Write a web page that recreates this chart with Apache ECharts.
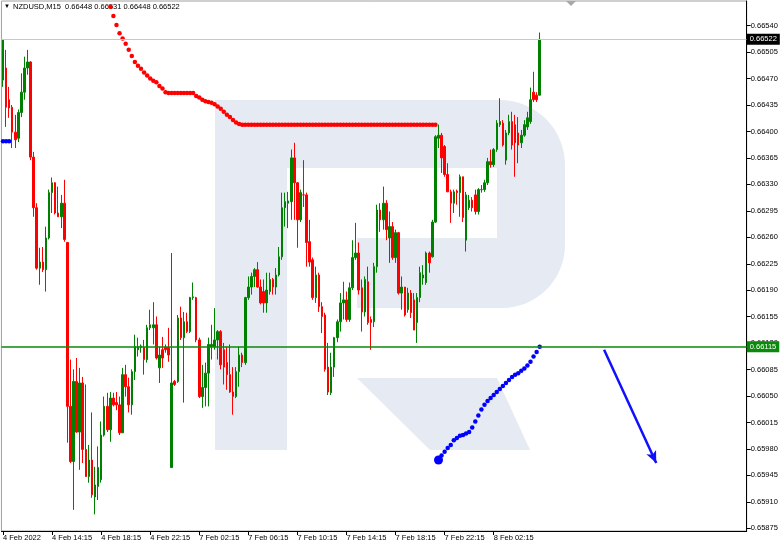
<!DOCTYPE html>
<html><head><meta charset="utf-8">
<script src="https://cdn.jsdelivr.net/npm/echarts@6/dist/echarts.min.js"></script>
<style>html,body{margin:0;padding:0;background:#fff}#c{width:782px;height:547px}</style>
</head><body><div id="c"></div>
<script>
// ---- data (NZDUSD M15, bars 0..175) ----
const opens = [0.66468,0.66484,0.66442,0.66432,0.66399,0.66391,0.66425,0.66452,0.66484,0.66492,0.66366,0.66299,0.66219,0.66227,0.66217,0.66259,0.66319,0.66332,0.66292,0.66287,0.66305,0.66253,0.66036,0.65963,0.66069,0.66002,0.66067,0.65979,0.65943,0.65965,0.65916,0.65930,0.65939,0.65998,0.66036,0.66005,0.66047,0.66041,0.66038,0.66001,0.66078,0.66062,0.66038,0.66082,0.66111,0.66114,0.66114,0.66098,0.66140,0.66140,0.66144,0.66087,0.66111,0.66114,0.66114,0.65955,0.66069,0.66069,0.66153,0.66127,0.66148,0.66135,0.66180,0.66180,0.66124,0.66049,0.66061,0.66080,0.66115,0.66115,0.66124,0.66135,0.66111,0.66094,0.66078,0.66055,0.66049,0.66082,0.66104,0.66094,0.66180,0.66194,0.66208,0.66217,0.66194,0.66188,0.66173,0.66188,0.66204,0.66194,0.66210,0.66234,0.66299,0.66305,0.66307,0.66365,0.66332,0.66283,0.66316,0.66316,0.66254,0.66230,0.66180,0.66210,0.66168,0.66157,0.66088,0.66054,0.66088,0.66127,0.66148,0.66173,0.66177,0.66151,0.66193,0.66233,0.66239,0.66193,0.66161,0.66201,0.66151,0.66148,0.66221,0.66296,0.66283,0.66305,0.66259,0.66274,0.66233,0.66266,0.66186,0.66194,0.66164,0.66186,0.66177,0.66147,0.66180,0.66206,0.66200,0.66239,0.66234,0.66280,0.66391,0.66395,0.66380,0.66343,0.66320,0.66305,0.66321,0.66319,0.66340,0.66256,0.66299,0.66309,0.66316,0.66294,0.66323,0.66323,0.66332,0.66360,0.66356,0.66376,0.66409,0.66411,0.66362,0.66398,0.66413,0.66409,0.66398,0.66385,0.66395,0.66406,0.66413,0.66452,0.66448,0.66448];
const highs = [0.66521,0.66508,0.66459,0.66435,0.66422,0.66429,0.66477,0.66499,0.66508,0.66493,0.66373,0.66305,0.66246,0.66247,0.66274,0.66323,0.66339,0.66333,0.66327,0.66316,0.66336,0.66253,0.66098,0.66085,0.66100,0.66087,0.66075,0.66065,0.65985,0.66028,0.65956,0.65983,0.66016,0.66049,0.66054,0.66055,0.66054,0.66055,0.66049,0.66087,0.66091,0.66074,0.66085,0.66131,0.66127,0.66118,0.66124,0.66144,0.66164,0.66174,0.66155,0.66115,0.66128,0.66118,0.66140,0.66239,0.66071,0.66157,0.66168,0.66161,0.66160,0.66181,0.66200,0.66181,0.66127,0.66091,0.66094,0.66127,0.66144,0.66166,0.66137,0.66137,0.66120,0.66115,0.66118,0.66088,0.66088,0.66115,0.66107,0.66181,0.66208,0.66213,0.66219,0.66227,0.66204,0.66204,0.66213,0.66213,0.66206,0.66219,0.66247,0.66319,0.66319,0.66320,0.66376,0.66385,0.66333,0.66323,0.66362,0.66319,0.66283,0.66233,0.66221,0.66213,0.66174,0.66160,0.66120,0.66107,0.66128,0.66151,0.66186,0.66201,0.66188,0.66200,0.66256,0.66279,0.66253,0.66204,0.66208,0.66221,0.66155,0.66226,0.66303,0.66305,0.66327,0.66309,0.66294,0.66280,0.66270,0.66267,0.66208,0.66194,0.66193,0.66190,0.66186,0.66186,0.66221,0.66223,0.66241,0.66241,0.66283,0.66395,0.66409,0.66398,0.66382,0.66358,0.66323,0.66323,0.66323,0.66343,0.66340,0.66320,0.66316,0.66313,0.66323,0.66325,0.66329,0.66336,0.66365,0.66376,0.66378,0.66415,0.66444,0.66415,0.66402,0.66422,0.66426,0.66422,0.66419,0.66402,0.66415,0.66426,0.66458,0.66479,0.66452,0.66531];
const lows = [0.66459,0.66406,0.66418,0.66378,0.66378,0.66386,0.66419,0.66442,0.66475,0.66362,0.66287,0.66217,0.66197,0.66214,0.66188,0.66257,0.66292,0.66290,0.66287,0.66272,0.66254,0.65988,0.65961,0.65899,0.66001,0.65952,0.65961,0.65943,0.65935,0.65915,0.65893,0.65912,0.65935,0.65996,0.66002,0.65989,0.66036,0.66031,0.65998,0.66001,0.66049,0.66028,0.66025,0.66071,0.66102,0.66107,0.66078,0.66094,0.66137,0.66118,0.66098,0.66067,0.66087,0.66107,0.66095,0.65955,0.66063,0.66067,0.66124,0.66041,0.66133,0.66133,0.66177,0.66121,0.66047,0.66034,0.66036,0.66036,0.66098,0.66111,0.66098,0.66085,0.66065,0.66058,0.66054,0.66025,0.66047,0.66062,0.66088,0.66091,0.66177,0.66184,0.66194,0.66193,0.66171,0.66160,0.66160,0.66184,0.66184,0.66184,0.66208,0.66230,0.66274,0.66272,0.66283,0.66283,0.66246,0.66280,0.66300,0.66221,0.66221,0.66177,0.66173,0.66161,0.66133,0.66082,0.66051,0.66051,0.66075,0.66121,0.66135,0.66151,0.66148,0.66148,0.66190,0.66230,0.66184,0.66135,0.66155,0.66144,0.66111,0.66141,0.66213,0.66267,0.66270,0.66256,0.66226,0.66230,0.66226,0.66184,0.66164,0.66155,0.66160,0.66153,0.66137,0.66120,0.66174,0.66197,0.66197,0.66213,0.66233,0.66279,0.66378,0.66345,0.66340,0.66320,0.66279,0.66292,0.66303,0.66287,0.66280,0.66241,0.66296,0.66294,0.66290,0.66290,0.66319,0.66320,0.66329,0.66352,0.66353,0.66373,0.66406,0.66380,0.66356,0.66395,0.66376,0.66340,0.66358,0.66378,0.66393,0.66402,0.66410,0.66439,0.66439,0.66448];
const closes = [0.66521,0.66432,0.66431,0.66399,0.66389,0.66425,0.66452,0.66484,0.66492,0.66366,0.66299,0.66219,0.66227,0.66217,0.66259,0.66319,0.66332,0.66292,0.66287,0.66305,0.66257,0.66036,0.65963,0.66069,0.66002,0.66067,0.65979,0.65943,0.65965,0.65919,0.65932,0.65955,0.65998,0.66036,0.66005,0.66047,0.66038,0.66038,0.66001,0.66078,0.66062,0.66038,0.66082,0.66115,0.66115,0.66116,0.66098,0.66140,0.66144,0.66144,0.66100,0.66104,0.66100,0.66111,0.66104,0.66067,0.66065,0.66153,0.66127,0.66148,0.66135,0.66180,0.66181,0.66124,0.66049,0.66061,0.66080,0.66118,0.66118,0.66124,0.66135,0.66091,0.66088,0.66078,0.66055,0.66049,0.66082,0.66104,0.66094,0.66180,0.66194,0.66208,0.66217,0.66194,0.66173,0.66173,0.66190,0.66204,0.66194,0.66210,0.66234,0.66299,0.66307,0.66308,0.66365,0.66332,0.66283,0.66319,0.66316,0.66253,0.66227,0.66180,0.66210,0.66168,0.66155,0.66085,0.66055,0.66088,0.66127,0.66148,0.66173,0.66177,0.66151,0.66193,0.66233,0.66239,0.66190,0.66161,0.66204,0.66147,0.66147,0.66221,0.66296,0.66283,0.66305,0.66270,0.66274,0.66233,0.66266,0.66186,0.66194,0.66157,0.66186,0.66160,0.66137,0.66180,0.66213,0.66210,0.66239,0.66226,0.66280,0.66393,0.66395,0.66365,0.66343,0.66320,0.66305,0.66320,0.66319,0.66340,0.66286,0.66316,0.66309,0.66299,0.66294,0.66323,0.66323,0.66332,0.66360,0.66356,0.66376,0.66411,0.66413,0.66382,0.66398,0.66413,0.66382,0.66385,0.66382,0.66395,0.66409,0.66418,0.66442,0.66442,0.66442,0.66522];
// red trailing dots, bars 35..141
const redDotsStart = 35;
const redDots = [0.66565,0.66553,0.66541,0.66530,0.66523,0.66516,0.66508,0.66500,0.66492,0.66487,0.66483,0.66478,0.66474,0.66470,0.66467,0.66465,0.66460,0.66457,0.66452,
0.66451,0.66451,0.66451,0.66451,0.66451,0.66451,0.66451,0.66451,0.66451,
0.66447,0.66445,0.66442,0.66440,0.66439,0.66438,0.66436,0.66433,0.66430,0.66426,0.66422,0.66419,0.66415,0.66412,0.66410,
0.66409,0.66409,0.66409,0.66409,0.66409,0.66409,0.66409,0.66409,0.66409,0.66409,0.66409,0.66409,0.66409,0.66409,0.66409,0.66409,
0.66409,0.66409,0.66409,0.66409,0.66409,0.66409,0.66409,0.66409,0.66409,0.66409,0.66409,0.66409,0.66409,0.66409,0.66409,0.66409,
0.66409,0.66409,0.66409,0.66409,0.66409,0.66409,0.66409,0.66409,0.66409,0.66409,0.66409,0.66409,0.66409,0.66409,0.66409,0.66409,
0.66409,0.66409,0.66409,0.66409,0.66409,0.66409,0.66409,0.66409,0.66409,0.66409,0.66409,0.66409,0.66409,0.66409,0.66409,0.66409];
// blue trailing dots, bars 142..175
const blueDotsStart = 142;
const blueDots = [0.65965,0.65971,0.65976,0.65981,0.65985,0.65991,0.65994,0.65997,0.65998,0.66000,0.66002,0.66008,0.66016,0.66024,0.66032,0.66038,0.66043,0.66047,0.66051,0.66055,0.66059,0.66063,0.66067,0.66071,0.66075,0.66078,0.66080,0.66083,0.66086,0.66090,0.66095,0.66102,0.66108,0.66115];
// earlier blue dots at the very left, bars 0..2
const blueLeft = [0.66387,0.66387,0.66387];
const tickLabels = ['4 Feb 2022','4 Feb 14:15','4 Feb 18:15','4 Feb 22:15','7 Feb 02:15','7 Feb 06:15','7 Feb 10:15','7 Feb 14:15','7 Feb 18:15','7 Feb 22:15','8 Feb 02:15'];
const supportLevel = 0.66115;
const lastPrice = 0.66522;
const arrowFrom = [196, 0.66111];
const arrowTo = [213, 0.65961];
const headerText = 'NZDUSD,M15  0.66448 0.66531 0.66448 0.66522';
const N_BARS = opens.length;
const N_SLOTS = 243;

const cats = [];
for (let i = 0; i < N_SLOTS; i++) cats.push(String(i));
const candles = opens.map((o, i) => [o, closes[i], lows[i], highs[i]]);
function spread(arr, start) {
  const out = new Array(N_SLOTS).fill(null);
  arr.forEach((v, k) => { out[start + k] = v; });
  return out;
}
const FONT = 'Liberation Sans';
const isTick = (idx) => idx % 16 === 0 && idx < N_BARS;
const WM = '#e6eaf3';
const priceLabel = (bg) => ({show: true, position: 'end', distance: 0, color: '#fff', backgroundColor: bg,
  padding: [2, 3, 1, 3], fontSize: 7.5, fontFamily: FONT, formatter: p => Number(p.value).toFixed(5)});

const chart = echarts.init(document.getElementById('c'), null, {renderer: 'canvas'});
chart.setOption({
  animation: false,
  backgroundColor: '#fff',
  grid: [
    {left: 0.3, width: 746.4, top: 1, height: 530, show: true, borderColor: '#a0a0a0', borderWidth: 1},
    {left: 0.3, width: 746.4, top: 25.7, height: 502.6, show: false}
  ],
  xAxis: [
    {type: 'category', gridIndex: 0, data: cats, boundaryGap: true,
     axisLine: {show: true, lineStyle: {color: '#000', width: 1}},
     axisTick: {show: true, alignWithLabel: true, interval: isTick, length: 4, lineStyle: {color: '#000'}},
     axisLabel: {interval: isTick, align: 'left', margin: 3, fontSize: 7.5, fontFamily: FONT, color: '#000',
       formatter: (v, idx) => isTick(idx) ? tickLabels[idx / 16] : ''},
     splitLine: {show: false}},
    {type: 'category', gridIndex: 1, data: cats, show: false}
  ],
  yAxis: [
    {type: 'value', gridIndex: 0, position: 'right', min: 0.65871, max: 0.665727, scale: true,
     axisLine: {show: true, lineStyle: {color: '#000'}}, axisTick: {show: false}, axisLabel: {show: false}, splitLine: {show: false}},
    {type: 'value', gridIndex: 1, position: 'right', min: 0.65875, max: 0.66540, interval: 0.00035, scale: true,
     axisLine: {show: false}, axisTick: {show: true, length: 4, lineStyle: {color: '#000'}},
     axisLabel: {margin: 4, fontSize: 7.5, fontFamily: FONT, color: '#000', formatter: v => v.toFixed(5)},
     splitLine: {show: false}}
  ],
  graphic: [
    {type: 'rect', z: 0, silent: true, shape: {x: 215, y: 100, width: 72, height: 350}, style: {fill: WM}},
    {type: 'rect', z: 0, silent: true, shape: {x: 287, y: 100, width: 278, height: 208, r: [0, 65, 63, 0]}, style: {fill: WM}},
    {type: 'rect', z: 0, silent: true, shape: {x: 287, y: 168, width: 210, height: 70}, style: {fill: '#fff'}},
    {type: 'rect', z: 0, silent: true, shape: {x: 287, y: 238, width: 70, height: 70}, style: {fill: '#fff'}},
    {type: 'polygon', z: 0, silent: true, shape: {points: [[357,378],[497,378],[530,450],[430,450]]}, style: {fill: WM}},
    {type: 'polygon', z: 1, silent: true, shape: {points: [[566,1],[576,1],[571,6]]}, style: {fill: '#a8a8a8'}},
    {type: 'text', z: 1, silent: true, left: 4, top: 3, style: {text: '▼', fontSize: 6, fill: '#000', fontFamily: FONT}},
    {type: 'text', z: 1, silent: true, left: 13, top: 3, style: {text: headerText, fontSize: 7.5, fill: '#000', fontFamily: FONT}}
  ],
  series: [
    {type: 'line', xAxisIndex: 0, yAxisIndex: 0, data: [], z: 1,
     markLine: {silent: true, symbol: ['none', 'none'], animation: false, precision: 5,
       data: [
         {yAxis: lastPrice, lineStyle: {color: '#c8c8c8', width: 1, type: 'solid'}, label: priceLabel('#000')}
       ]}},
    {type: 'candlestick', xAxisIndex: 0, yAxisIndex: 0, data: candles, barWidth: 2, z: 2,
     itemStyle: {color: '#008000', color0: '#ff0000', borderColor: '#008000', borderColor0: '#ff0000', borderWidth: 1}},
    {type: 'line', xAxisIndex: 0, yAxisIndex: 0, data: [], z: 3,
     markLine: {silent: true, symbol: ['none', 'none'], animation: false, precision: 5,
       data: [
         {yAxis: supportLevel, lineStyle: {color: '#0a8a0a', width: 1.6, type: 'solid'}, label: priceLabel('#0a8a0a')}
       ]}},
    {type: 'line', xAxisIndex: 0, yAxisIndex: 0, data: spread(redDots, redDotsStart), symbol: 'circle', symbolSize: 4.5,
     showSymbol: true, showAllSymbol: true, lineStyle: {width: 0, opacity: 0}, itemStyle: {color: '#ff0000'}, z: 4},
    {type: 'line', xAxisIndex: 0, yAxisIndex: 0, data: spread(blueDots, blueDotsStart), symbol: 'circle',
     symbolSize: (v, p) => p.dataIndex === blueDotsStart ? 9 : 4.5,
     showSymbol: true, showAllSymbol: true, lineStyle: {width: 0, opacity: 0}, itemStyle: {color: '#0000ff'}, z: 4},
    {type: 'line', xAxisIndex: 0, yAxisIndex: 0, data: spread(blueLeft, 0), symbol: 'circle', symbolSize: 4.5,
     showSymbol: true, showAllSymbol: true, lineStyle: {width: 0, opacity: 0}, itemStyle: {color: '#0000ff'}, z: 4},
    {type: 'line', xAxisIndex: 0, yAxisIndex: 0, data: [], z: 5,
     markLine: {silent: true, symbol: ['none', 'arrow'], symbolSize: [8, 12], animation: false, precision: 5,
       lineStyle: {color: '#1010ff', width: 2.5, type: 'solid'}, label: {show: false},
       data: [[{coord: arrowFrom}, {coord: arrowTo}]]}}
  ]
});
</script></body></html>
